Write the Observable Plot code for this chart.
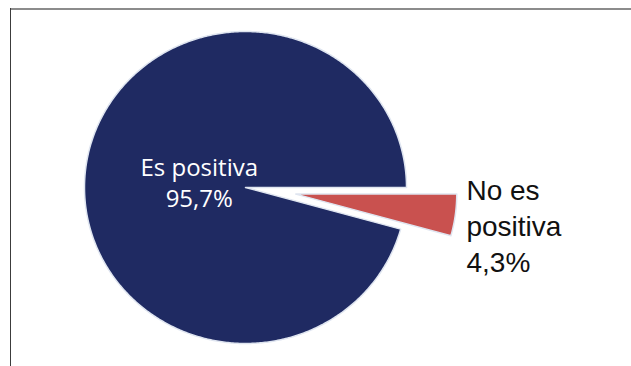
<!DOCTYPE html>
<html>
<head>
<meta charset="utf-8">
<script src="https://cdn.jsdelivr.net/npm/d3@7"></script>
<script src="https://cdn.jsdelivr.net/npm/@observablehq/plot@0.6"></script>
<style>
  html, body { margin: 0; padding: 0; background: #fff; }
  #chart { position: relative; width: 631px; height: 366px; overflow: hidden; }
  #chart svg { position: absolute; left: 0; top: 0; }
  #chart .edge-top { position: absolute; z-index: 2; left: 10px; top: 8px; width: 621px; height: 2px; background: #8c8c8c; }
  #chart .edge-left { position: absolute; z-index: 2; left: 10px; top: 8px; width: 1px; height: 358px; background: #3c3c3c; }
  g[aria-label="etiqueta-otro"] text { letter-spacing: -0.9px; }
</style>
</head>
<body>
<div id="chart"></div>
<script>
// Respuestas
const categories = ["Es positiva", "No es positiva"];
const values = [95.7, 4.3];
const lineLabels = ["Es positiva", "No es\npositiva"];
const valueLabels = ["95,7%", "4,3%"];
const sliceColors = ["#1f2a62", "#c9514f"];

// Pie geometry in unit-radius coordinates; the small slice is pulled out.
const TAU = 2 * Math.PI;
const total = d3.sum(values);
const start = Math.PI / 2 + TAU * values[1] / total;
const arcs = d3.pie().sort(null).startAngle(start).endAngle(start + TAU)(values);
const explode = [0, 0.315];

const outline = [];
arcs.forEach((a, i) => {
  const mid = (a.startAngle + a.endAngle) / 2;
  const ox = explode[i] * Math.sin(mid);
  const oy = -explode[i] * Math.cos(mid);
  outline.push({name: categories[i], x: ox, y: oy});
  const n = Math.ceil((a.endAngle - a.startAngle) / 0.01);
  for (let k = 0; k <= n; ++k) {
    const t = a.startAngle + (a.endAngle - a.startAngle) * k / n;
    outline.push({name: categories[i], x: ox + Math.sin(t), y: oy - Math.cos(t)});
  }
});

const labelRows = arcs.map((a, i) => {
  const mid = (a.startAngle + a.endAngle) / 2;
  const r = i === 0 ? 0.29 : explode[i] + 1.07;
  return {
    name: categories[i],
    x: r * Math.sin(mid),
    y: -r * Math.cos(mid),
    text: lineLabels[i] + "\n" + valueLabels[i]
  };
});

const chart = Plot.plot({
  width: 631,
  height: 366,
  margin: 0,
  style: {background: "transparent"},
  x: {domain: [-1, 1], range: [84, 406], axis: null},
  y: {domain: [-1, 1], range: [31, 343], axis: null},
  color: {domain: categories, range: sliceColors},
  marks: [
    Plot.line(outline, {
      x: "x", y: "y", z: "name", fill: "name",
      stroke: "#dfe5f0", strokeWidth: 1.5, curve: "linear-closed"
    }),
    Plot.text(labelRows.slice(0, 1), {
      x: "x", y: "y", text: "text",
      fill: "white", fontSize: 24, fontFamily: "Open Sans",
      lineHeight: 1.32, textAnchor: "middle"
    }),
    Plot.text(labelRows.slice(1), {
      x: "x", y: "y", text: "text", dy: 8,
      fill: "#111", fontSize: 28, fontFamily: "Liberation Sans",
      lineHeight: 1.28, textAnchor: "start", ariaLabel: "etiqueta-otro"
    })
  ]
});

const root = document.getElementById("chart");
root.appendChild(chart);
const edgeTop = document.createElement("div");
edgeTop.className = "edge-top";
const edgeLeft = document.createElement("div");
edgeLeft.className = "edge-left";
root.appendChild(edgeTop);
root.appendChild(edgeLeft);
</script>
</body>
</html>
